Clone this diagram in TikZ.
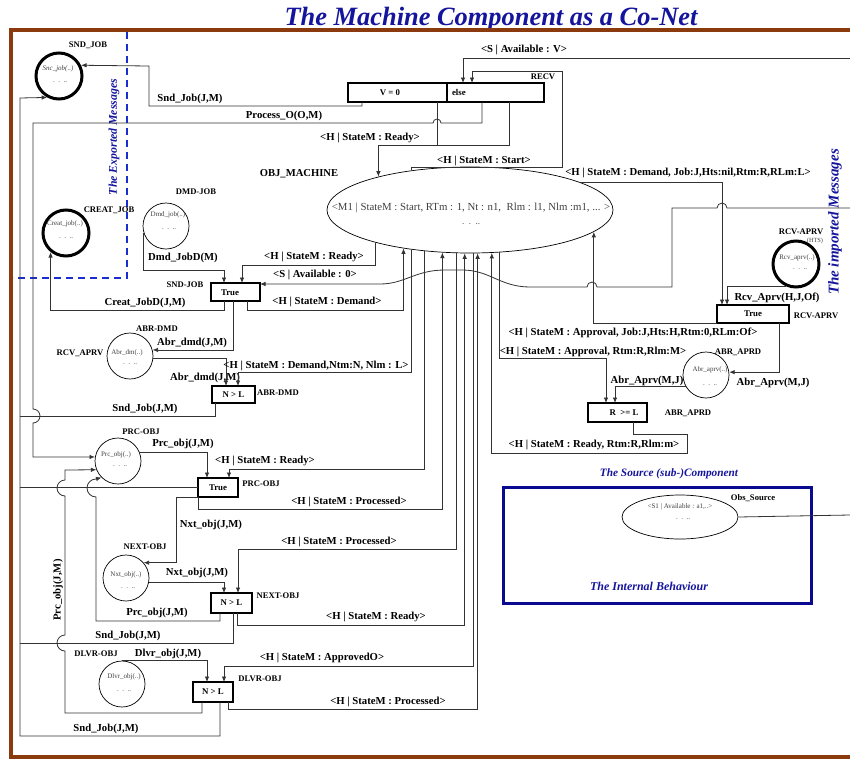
\documentclass[tikz,border=0pt]{standalone}
\usepackage{fontspec}
\setmainfont{Liberation Serif}
\usetikzlibrary{arrows.meta,shapes.geometric}

\definecolor{framebrown}{HTML}{8B3A0E}
\definecolor{titleblue}{HTML}{14149C}
\definecolor{dashblue}{HTML}{1A2ED0}
\definecolor{srcblue}{HTML}{0A0A90}
\definecolor{wirec}{HTML}{333333}
\definecolor{innerc}{HTML}{404040}

\begin{document}
\begin{tikzpicture}[x=1pt,y=-1pt,
  lbl/.style={font=\bfseries\fontsize{10.7}{12}\selectfont, inner sep=0pt},
  tag/.style={font=\bfseries\fontsize{8.6}{10}\selectfont, inner sep=0pt},
  boxtxt/.style={font=\bfseries\fontsize{8.8}{10}\selectfont, inner sep=0pt},
  note/.style={font=\fontsize{7}{8}\selectfont, text=innerc, inner sep=0pt},
  noteit/.style={font=\itshape\fontsize{7}{8}\selectfont, text=innerc, inner sep=0pt},
  bluelbl/.style={font=\bfseries\itshape\fontsize{11.8}{13}\selectfont, text=titleblue, inner sep=0pt},
  trans/.style={draw, line width=1.5pt, font=\bfseries\fontsize{8.8}{10}\selectfont, inner sep=0pt, outer sep=0pt},
  place/.style={circle, draw, line width=0.7pt, minimum size=46pt, inner sep=0pt},
  port/.style={place, line width=3pt},
  wire/.style={draw=wirec, line width=0.8pt},
  arr/.style={wire, -{Latex[length=5.5pt,width=4.5pt]}},
]
\useasboundingbox (0,0) rectangle (850,760);
\clip (0,0) rectangle (850,760);

% ---------- title and frame ----------
\node[font=\bfseries\itshape\fontsize{26.4}{28}\selectfont, text=titleblue, anchor=base, inner sep=0pt] (title) at (491,26) {The Machine Component as a Co-Net};
\draw[framebrown, line width=3.5pt] (870,30) -- (11,30) -- (11,757) -- (870,757);

% exported / imported message regions
\draw[dashblue, line width=1.5pt, dash pattern=on 7pt off 5pt] (127,32) -- (127,278) -- (13,278);
\node[bluelbl, rotate=90] (expo) at (114,137) {The Exported Messages};
\node[bluelbl, rotate=90, font=\bfseries\itshape\fontsize{15}{16}\selectfont] (impo) at (835,222) {The imported Messages};

% ---------- places ----------
\node[port] (sndjob) at (59,76) {};
\node[tag] (sndjobl) at (88,45) {SND\_JOB};
\node[noteit] (sndjobt) at (58,69) {Snc\_job(..)};
\node[note] (sndjobd) at (60,82) {.\ \ .\ \ ..};

\node[port] (creat) at (66,233) {};
\node[tag] (creatl) at (109,210) {CREAT\_JOB};
\node[note] (creatt) at (65,224) {Creat\_job(..)};
\node[note] (creatd) at (66,238) {.\ \ .\ \ ..};

\node[place] (dmd) at (166,226) {};
\node[tag] (dmdl) at (196,192) {DMD-JOB};
\node[note] (dmdt) at (168,215) {Dmd\_job(..)};
\node[note] (dmdd) at (169,229) {.\ \ .\ \ ..};

\node[place] (abrd) at (130,356) {};
\node[tag] (abrdl) at (157,329) {ABR-DMD};
\node[tag] (abrdl2) at (80,353) {RCV\_APRV};
\node[note] (abrdt) at (127,353) {Abr\_dm(..)};
\node[note] (abrdd) at (130,364) {.\ \ .\ \ ..};

\node[place] (prc) at (118,461) {};
\node[tag] (prcl) at (141,432) {PRC-OBJ};
\node[note] (prct) at (116,455) {Prc\_obj(..)};
\node[note] (prcd) at (120,466) {.\ \ .\ \ ..};

\node[place] (next) at (126,578) {};
\node[tag] (nextl) at (145,547) {NEXT-OBJ};
\node[note] (nextt) at (126,575) {Nxt\_obj(..)};
\node[note] (nextd) at (128,588) {.\ \ .\ \ ..};

\node[place] (dlvr) at (122,684) {};
\node[tag] (dlvrl) at (96,654) {DLVR-OBJ};
\node[note] (dlvrt) at (124,677) {Dlvr\_obj(..)};
\node[note] (dlvrd) at (124,691) {.\ \ .\ \ ..};

\node[port] (rcvc) at (796,264) {};
\node[tag] (rcvcl) at (801,232) {RCV-APRV};
\node[note, font=\fontsize{6.3}{7}\selectfont] (rcvch) at (815,241) {(HTS)};
\node[note] (rcvct) at (797,258) {Rcv\_aprv(..)};
\node[note] (rcvcd) at (800,269) {.\ \ .\ \ ..};

\node[place] (abrc) at (706,375) {};
\node[tag] (abrcl) at (738,352) {ABR\_APRD};
\node[note] (abrct) at (710,370) {Abr\_aprv(..)};
\node[note] (abrcd) at (710,385) {.\ \ .\ \ ..};

% the machine object
\node[ellipse, draw, line width=0.7pt, minimum width=286pt, minimum height=86pt, inner sep=0pt] (obj) at (470,210) {};
\node[lbl, font=\bfseries\fontsize{10.6}{12}\selectfont] (objl) at (299,174) {OBJ\_MACHINE};
\node[note, font=\fontsize{10.8}{12}\selectfont] (objt) at (471,208) {<M1 | StateM : Start, RTm : 1, Nt : n1,\ \ Rlm : l1, Nlm :m1, ... >};
\node[note, font=\fontsize{9}{10}\selectfont] (objd) at (471,224) {.\ \ .\ \ ..};

% ---------- transitions ----------
\node[trans, minimum width=99pt, minimum height=19pt] (recvA) at (397.5,92.5) {};
\node[boxtxt] (recvAt) at (390,93) {V = 0};
\node[trans, minimum width=97pt, minimum height=19pt, text width=87pt, align=left] (recvB) at (495.5,92.5) {else};
\node[tag] (recvl) at (543,77) {RECV};

\node[trans, minimum width=49pt, minimum height=18pt] (sndbox) at (235.5,292) {};
\node[boxtxt] (sndboxt) at (230,293) {True};
\node[tag] (sndboxl) at (185,285) {SND-JOB};

\node[trans, minimum width=43pt, minimum height=17pt] (abrbox) at (233.5,394.5) {N > L};
\node[tag] (abrboxl) at (278,393) {ABR-DMD};

\node[trans, minimum width=40pt, minimum height=19pt] (prcbox) at (218,487.5) {True};
\node[tag] (prcboxl) at (261,484) {PRC-OBJ};

\node[trans, minimum width=41pt, minimum height=20pt] (nextbox) at (231.5,603) {N > L};
\node[tag] (nextboxl) at (278,596) {NEXT-OBJ};

\node[trans, minimum width=40pt, minimum height=20pt] (dlvrbox) at (213,692) {N > L};
\node[tag] (dlvrboxl) at (260,679) {DLVR-OBJ};

\node[trans, minimum width=72pt, minimum height=18pt] (rcvbox) at (753,314) {True};
\node[tag] (rcvboxl) at (816,316) {RCV-APRV};

\node[trans, minimum width=59pt, minimum height=19pt] (abrtbox) at (617.5,412.5) {};
\node[boxtxt] (abrtboxt) at (624,413) {R\ \ >= L};
\node[tag] (abrtboxl) at (688,413) {ABR\_APRD};

% ---------- source sub-component ----------
\node[bluelbl, font=\bfseries\itshape\fontsize{11.3}{13}\selectfont] (srcttl) at (669,474) {The Source (sub-)Component};
\node[draw=srcblue, line width=3pt, minimum width=308pt, minimum height=116pt, inner sep=0pt] (srcbox) at (657,545) {};
\node[ellipse, draw, line width=0.7pt, minimum width=116pt, minimum height=44pt, inner sep=0pt] (src) at (680,517) {};
\node[tag] (srcl) at (753,498) {Obs\_Source};
\node[note] (srct) at (680,507) {<S1 | Available : a1,..>};
\node[note] (srcd) at (683,519) {.\ \ .\ \ ..};
\node[bluelbl, font=\bfseries\itshape\fontsize{12}{13}\selectfont] (srcbeh) at (649,586) {The Internal Behaviour};
\coordinate (srcout) at (850,515);
\draw[wire] (src.east) -- (srcout);

% ---------- free ends on the right ----------
\coordinate (inV) at (850,58);
\coordinate (inA) at (850,208);

% ---------- connectors : RECV ----------
\draw[arr] (inV) -| ([xshift=16pt]recvB.north west);
\node[lbl] (lV) at (524,50) {<S | Available : V>};

\draw[arr] (obj.146) |- (562,167) -- (562,71) -| ([xshift=25pt]recvB.north west);
\node[lbl] (lStart) at (484,161) {<H | StateM : Start>};

\draw[arr] ([xshift=14pt]recvA.south west) |- (149,106) -- (149,66) -- (sndjob.26);
\node[lbl] (lSnd1) at (190,99) {Snd\_Job(J,M)};

\draw[arr] ([xshift=35pt]recvB.south west) |- (441,123)
  arc[start angle=0, end angle=-180, radius=4] -- (33,123) -- (33,409)
  arc[start angle=-90, end angle=90, radius=7] -- (33,457) -- (prc.170);
\node[lbl] (lProc) at (284,116) {Process\_O(O,M)};

\draw[wire] ([xshift=89pt]recvA.south west) -- ++(0,43);
\draw[arr] ([xshift=62pt]recvB.south west) -- ++(0,43) -| (obj.160);
\node[lbl] (lReady1) at (370,138) {<H | StateM : Ready>};

% ---------- connectors : RCV-APRV ----------
\draw[arr] (obj.14.5) -| ([xshift=5pt]rcvbox.north west);
\node[lbl] (lDemJ) at (688,173) {<H | StateM : Demand, Job:J,Hts:nil,Rtm:R,RLm:L>};

\draw[arr] (rcvc.-115) -| ([xshift=10pt]rcvbox.north west);
\node[lbl] (lRcv) at (777,298) {Rcv\_Aprv(H,J,Of)};

\draw[arr] ([xshift=62pt]rcvbox.south west) |- (abrc.7);
\node[lbl] (lAbrR) at (773,383) {Abr\_Aprv(M,J)};

\draw[arr] (rcvbox.south west) -| (obj.-10.4);
\node[lbl] (lAppJ) at (633,333) {<H | StateM : Approval, Job:J,Hts:H,Rtm:0,RLm:Of>};

% ---------- connectors : SND-JOB ----------
\draw[arr] (inA) -- (727,208) arc[start angle=0, end angle=-180, radius=5]
  -- (672,208) -- (672,287) -- (597,287) arc[start angle=0, end angle=-180, radius=5]
  -- (530,287) .. controls (500,287) and (490,270) .. (462,270) -- (445,270)
  .. controls (415,270) and (405,284) .. (380,284) -- ([yshift=8pt]sndbox.east);
\node[lbl] (lAv0) at (315,275) {<S | Available : 0>};

\draw[arr] (obj.-161) |- ([xshift=31pt,yshift=18pt]sndbox.north west) -- ([xshift=31pt]sndbox.north west);
\node[lbl] (lReady2) at (314,257) {<H | StateM : Ready>};

\draw[arr] (dmd.-163) |- ([xshift=13pt,yshift=13pt]sndbox.north west) -- ([xshift=13pt]sndbox.north west);
\node[lbl] (lDmd) at (183,258) {Dmd\_JobD(M)};

\draw[arr] ([xshift=13pt]sndbox.south west) -- ++(0,9) -| (creat.-129);
\node[lbl] (lCreat) at (145,303) {Creat\_JobD(J,M)};

\draw[arr] ([xshift=36pt]sndbox.south west) -- ++(0,9) -| (obj.-150.9);
\node[lbl] (lDem) at (327,302) {<H | StateM : Demand>};

\draw[arr] ([xshift=22pt]sndbox.south west) |- (abrd.15);
\node[lbl] (lAbr1) at (192,343) {Abr\_dmd(J,M)};

% ---------- connectors : ABR-DMD ----------
\draw[arr] (abrd.-5) -| ([xshift=14pt]abrbox.north west);
\node[lbl] (lAbr2) at (205,378) {Abr\_dmd(J,M)};

\draw[arr] (obj.-146.4) |- ([xshift=26pt,yshift=14pt]abrbox.north west) -- ([xshift=26pt]abrbox.north west);
\node[lbl] (lDemN) at (316,366) {<H | StateM : Demand,Ntm:N, Nlm : L>};

\draw[wire] ([xshift=3pt]abrbox.south west) |- (20,416);
\node[lbl] (lSnd2) at (145,409) {Snd\_Job(J,M)};

% ---------- connectors : PRC-OBJ ----------
\draw[arr] (prc.22) -| ([xshift=9pt]prcbox.north west);
\node[lbl] (lPrc1) at (183,444) {Prc\_obj(J,M)};

\draw[arr] (obj.-138.5) |- ([xshift=31pt,yshift=9pt]prcbox.north west) -- ([xshift=31pt]prcbox.north west);
\node[lbl] (lReady3) at (265,461) {<H | StateM : Ready>};

\draw[arr] (prcbox.south west) -- ++(0,12) -| (obj.-123.6);
\node[lbl] (lProc1) at (349,502) {<H | StateM : Processed>};

\draw[arr] (prcbox.south west) -- ++(-22,0) |- (next.41);
\node[lbl] (lNxt1) at (211,525) {Nxt\_obj(J,M)};

\draw[wire] (prcbox.west) -- (20,487.5);

% ---------- connectors : NEXT-OBJ ----------
\draw[arr] (next.-10) -| ([xshift=13pt]nextbox.north west);
\node[lbl] (lNxt2) at (197,573) {Nxt\_obj(J,M)};

\draw[arr] (obj.-108.1) |- ([xshift=27pt,yshift=44pt]nextbox.north west) -- ([xshift=27pt]nextbox.north west);
\node[lbl] (lProc2) at (339,542) {<H | StateM : Processed>};

\draw[arr] ([xshift=9pt]nextbox.south west) -- ++(0,8) -- (96,621) -- (96,497)
  arc[start angle=90, end angle=270, radius=9] -- (prc.-135);
\node[lbl] (lPrc2) at (157,613) {Prc\_obj(J,M)};

\draw[wire] ([xshift=22pt]nextbox.south west) |- (20,643);
\node[lbl] (lSnd3) at (128,636) {Snd\_Job(J,M)};

\draw[arr] ([xshift=26pt]nextbox.south west) -- ++(0,12) -| (obj.-97.9);
\node[lbl] (lReady4) at (376,617) {<H | StateM : Ready>};

% ---------- connectors : DLVR-OBJ ----------
\draw[arr] (dlvr.north) -| ([xshift=14pt]dlvrbox.north west);
\node[lbl] (lDlvr) at (168,654) {Dlvr\_obj(J,M)};

\draw[arr] (obj.-86) |- ([xshift=31pt,yshift=16pt]dlvrbox.north west) -- ([xshift=31pt]dlvrbox.north west);
\node[lbl] (lAppO) at (322,658) {<H | StateM : ApprovedO>};

\draw[arr] ([xshift=9pt]dlvrbox.south west) -- ++(0,11) -- (65,713) -- (65,651)
  arc[start angle=90, end angle=270, radius=8] -- (65,496)
  arc[start angle=90, end angle=270, radius=8] -- (65,470) -- (prc.-158);
\node[lbl, rotate=90] (lPrc3) at (58,590) {Prc\_obj(J,M)};

\draw[arr] ([xshift=27pt]dlvrbox.south west) -- ++(0,34) -- (20,736) -- (20,98) -- (sndjob.-119);
\node[lbl] (lSnd4) at (106,729) {Snd\_Job(J,M)};

\draw[arr] ([xshift=35pt]dlvrbox.south west) -- ++(0,7) -| (obj.-80.7);
\node[lbl] (lProc3) at (388,702) {<H | StateM : Processed>};

% ---------- connectors : ABR_APRD ----------
\draw[arr] (obj.-55.4) |- ([xshift=18pt,yshift=45pt]abrtbox.north west) -- ([xshift=18pt]abrtbox.north west);
\node[lbl] (lAppR) at (593,352) {<H | StateM : Approval, Rtm:R,Rlm:M>};

\draw[arr] (abrc.-151) -| ([xshift=27pt]abrtbox.north west);
\node[lbl] (lAbrL) at (647,381) {Abr\_Aprv(M,J)};

\draw[arr] ([xshift=45pt]abrtbox.south west) -- ++(0,12) -- (687,434) -- (687,453) -| (obj.-63.7);
\node[lbl] (lReadyR) at (594,445) {<H | StateM : Ready, Rtm:R,Rlm:m>};

\end{tikzpicture}
\end{document}
